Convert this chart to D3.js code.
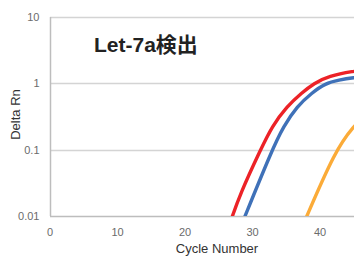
<!DOCTYPE html>
<html>
<head>
<meta charset="utf-8">
<script src="https://cdn.jsdelivr.net/npm/d3@7"></script>
<style>
  body { margin: 0; background: #fff; overflow: hidden; }
  svg { display: block; font-family: "Liberation Sans", Arial, "Noto Sans CJK JP", sans-serif; }
</style>
</head>
<body>
<svg id="chart"></svg>
<script>
// Data (cycle, Delta Rn)
const redCycles  = [26.6, 28.2, 31.2, 32.9, 35.1, 37.3, 39.1, 41.3, 45.0, 47, 50];
const redValues  = [0.0075, 0.022, 0.1, 0.225, 0.45, 0.72, 1.0, 1.29, 1.53, 1.6, 1.65];
const blueCycles = [28.4, 32.9, 34.6, 36.6, 38.8, 40.8, 42.8, 45.0, 47, 50];
const blueValues = [0.0075, 0.1, 0.225, 0.45, 0.72, 1.0, 1.12, 1.22, 1.28, 1.33];
const orangeCycles = [37.6, 42.3, 45.0, 47, 50];
const orangeValues = [0.0078, 0.1, 0.225, 0.36, 0.6];
const xTicks = [0, 10, 20, 30, 40];
const yTicks = [0.01, 0.1, 1, 10];
const yTickLabels = ["0.01", "0.1", "1", "10"];

const W = 354, H = 257;
const margin = { top: 17, left: 50, bottom: 41 };

const svg = d3.select("#chart").attr("width", W).attr("height", H);

const x = d3.scaleLinear().domain([0, 50]).range([margin.left, 387.5]);
const y = d3.scaleLog().domain([0.01, 10]).range([H - margin.bottom, margin.top]);

// gridlines
svg.append("g")
  .selectAll("line")
  .data(yTicks.slice(1))
  .enter().append("line")
  .attr("x1", margin.left).attr("x2", 387)
  .attr("y1", d => Math.round(y(d)) + 0.5).attr("y2", d => Math.round(y(d)) + 0.5)
  .attr("stroke", "#d4d4d4").attr("stroke-width", 1.5);

// axis lines
svg.append("line")
  .attr("x1", margin.left + 0.5).attr("x2", margin.left + 0.5)
  .attr("y1", y(10)).attr("y2", y(0.01))
  .attr("stroke", "#bdbdbd").attr("stroke-width", 1.5);
svg.append("line")
  .attr("x1", margin.left).attr("x2", 387)
  .attr("y1", Math.round(y(0.01)) + 0.5).attr("y2", Math.round(y(0.01)) + 0.5)
  .attr("stroke", "#bdbdbd").attr("stroke-width", 1.5);

// tick labels
svg.append("g")
  .selectAll("text")
  .data(yTicks)
  .enter().append("text")
  .attr("x", 39.5)
  .attr("y", d => y(d))
  .attr("dy", "0.35em")
  .attr("text-anchor", "end")
  .attr("font-size", 11)
  .attr("fill", "#6b6b6b")
  .text((d, i) => yTickLabels[i]);

svg.append("g")
  .selectAll("text")
  .data(xTicks)
  .enter().append("text")
  .attr("x", d => x(d))
  .attr("y", 236)
  .attr("text-anchor", "middle")
  .attr("font-size", 11)
  .attr("fill", "#6b6b6b")
  .text(d => d);

// axis titles
svg.append("text")
  .attr("transform", `translate(19.5,114.5) rotate(-90)`)
  .attr("text-anchor", "middle")
  .attr("font-size", 13)
  .attr("fill", "#333")
  .text("Delta Rn");

svg.append("text")
  .attr("x", 217).attr("y", 253)
  .attr("text-anchor", "middle")
  .attr("font-size", 13)
  .attr("fill", "#333")
  .text("Cycle Number");

// chart title
svg.append("text")
  .attr("x", 94).attr("y", 52)
  .attr("font-size", 21)
  .attr("font-weight", "bold")
  .attr("fill", "#222")
  .text("Let-7a検出");

// curves
svg.append("clipPath").attr("id", "plot-clip")
  .append("rect")
  .attr("x", margin.left).attr("y", 0)
  .attr("width", 387 - margin.left).attr("height", y(0.01));

const line = d3.line()
  .x(d => x(d[0]))
  .y(d => y(d[1]))
  .curve(d3.curveBasis);

const series = [
  { cycles: orangeCycles, values: orangeValues, color: "#fbab38" },
  { cycles: blueCycles, values: blueValues, color: "#3f71b8" },
  { cycles: redCycles, values: redValues, color: "#ec2227" }
];

svg.append("g")
  .attr("clip-path", "url(#plot-clip)")
  .selectAll("path")
  .data(series)
  .enter().append("path")
  .attr("d", s => line(s.cycles.map((c, i) => [c, s.values[i]])))
  .attr("fill", "none")
  .attr("stroke", s => s.color)
  .attr("stroke-width", 3.4)
  .attr("stroke-linecap", "round");
</script>
</body>
</html>
